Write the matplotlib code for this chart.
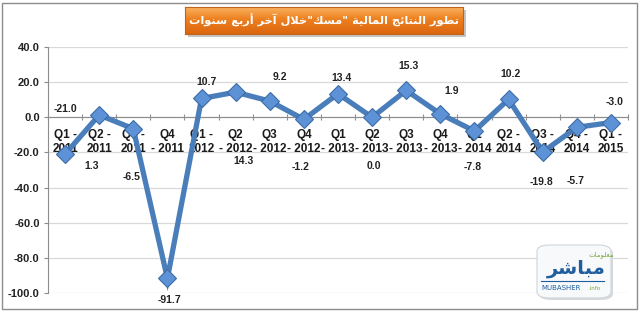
import matplotlib.pyplot as plt
import numpy as np
from matplotlib.patches import FancyBboxPatch, Rectangle

# quarterly results (data)
quarters = ["Q1 -\n2011", "Q2 -\n2011", "Q3 -\n2011", "Q4\n- 2011", "Q1 -\n2012",
            "Q2\n- 2012", "Q3\n- 2012", "Q4\n- 2012", "Q1\n- 2013", "Q2\n- 2013",
            "Q3\n- 2013", "Q4\n- 2013", "Q1\n- 2014", "Q2 -\n2014", "Q3 -\n2014",
            "Q4 -\n2014", "Q1 -\n2015"]
values = [-21.0, 1.3, -6.5, -91.7, 10.7, 14.3, 9.2, -1.2, 13.4, 0.0,
          15.3, 1.9, -7.8, 10.2, -19.8, -5.7, -3.0]
yticks = [40, 20, 0, -20, -40, -60, -80, -100]

# where the data labels sit relative to their point (pixels, y up)
label_dx = [0, -8, -2, 2, 5, 8, 10, -3, 3, 2, 2, 11, -2, 2, -1, -1, 4]
label_dy = [45, -51, -48, -22, 16, -69, 24, -48, 16, -49, 24, 23, -36, 25, -30, -54, 21]

title = 'تطور النتائج المالية "مسك"خلال آخر أربع سنوات'

# minimal arabic shaping (no reshaper lib available)
FORMS = {
    'ا': (0xFE8D, 0xFE8E, None, None), 'آ': (0xFE81, 0xFE82, None, None),
    'أ': (0xFE83, 0xFE84, None, None), 'ب': (0xFE8F, 0xFE90, 0xFE91, 0xFE92),
    'ة': (0xFE93, 0xFE94, None, None), 'ت': (0xFE95, 0xFE96, 0xFE97, 0xFE98),
    'ئ': (0xFE89, 0xFE8A, 0xFE8B, 0xFE8C), 'ج': (0xFE9D, 0xFE9E, 0xFE9F, 0xFEA0),
    'خ': (0xFEA5, 0xFEA6, 0xFEA7, 0xFEA8), 'ر': (0xFEAD, 0xFEAE, None, None),
    'س': (0xFEB1, 0xFEB2, 0xFEB3, 0xFEB4), 'ش': (0xFEB5, 0xFEB6, 0xFEB7, 0xFEB8),
    'ط': (0xFEC1, 0xFEC2, 0xFEC3, 0xFEC4), 'ع': (0xFEC9, 0xFECA, 0xFECB, 0xFECC),
    'ك': (0xFED9, 0xFEDA, 0xFEDB, 0xFEDC), 'ل': (0xFEDD, 0xFEDE, 0xFEDF, 0xFEE0),
    'م': (0xFEE1, 0xFEE2, 0xFEE3, 0xFEE4), 'ن': (0xFEE5, 0xFEE6, 0xFEE7, 0xFEE8),
    'و': (0xFEED, 0xFEEE, None, None), 'ي': (0xFEF1, 0xFEF2, 0xFEF3, 0xFEF4),
}
LAM_ALEF = {'ا': (0xFEFB, 0xFEFC), 'آ': (0xFEF5, 0xFEF6), 'أ': (0xFEF7, 0xFEF8)}


def shape(text):
    tokens = []
    i = 0
    while i < len(text):
        if text[i] == 'ل' and i + 1 < len(text) and text[i + 1] in LAM_ALEF:
            tokens.append(('LA', text[i + 1]))
            i += 2
        else:
            tokens.append(('C', text[i]))
            i += 1
    out = []
    for k, (kind, c) in enumerate(tokens):
        prev = tokens[k - 1] if k > 0 else None
        nxt = tokens[k + 1] if k + 1 < len(tokens) else None
        joins_prev = (prev is not None and prev[0] == 'C' and prev[1] in FORMS
                      and FORMS[prev[1]][2] is not None)
        if kind == 'LA':
            iso, fin = LAM_ALEF[c]
            out.append(chr(fin if joins_prev else iso))
            continue
        if c not in FORMS:
            out.append(c)
            continue
        iso, fin, ini, med = FORMS[c]
        joins_next = ini is not None and nxt is not None and (nxt[0] == 'LA' or nxt[1] in FORMS)
        if joins_prev and joins_next:
            g = med
        elif joins_prev:
            g = fin
        elif joins_next:
            g = ini
        else:
            g = iso
        out.append(chr(g))
    return ''.join(reversed(out))


W, H = 640, 311
fig = plt.figure(figsize=(W / 100, H / 100), dpi=100)
fig.patch.set_facecolor('white')

# outer frame
fig.add_artist(Rectangle((1.5 / W, 2.5 / H), 635 / W, 306 / H, transform=fig.transFigure,
                         fill=False, edgecolor='#8c8c8c', linewidth=1.0, zorder=-2))

ax = fig.add_axes([48 / W, 1 - 293 / H, 580 / W, 246 / H])
x = np.arange(len(values))

ax.plot(x, values, color='#4a7ebb', linewidth=3.8, marker='D', markersize=9,
        markerfacecolor='#5d93d6', markeredgecolor='#3d6ca6', markeredgewidth=0.8,
        solid_joinstyle='miter', zorder=3)

ax.set_xlim(-0.5, len(values) - 0.5)
ax.set_ylim(-100, 40)
ax.set_yticks(yticks)
ax.set_yticklabels([f"{t:.1f}" for t in yticks], fontsize=8, fontweight='bold',
                   family='Liberation Sans', color='#222222')
ax.yaxis.grid(True, color='#d9d9d9', linewidth=0.9)
ax.set_axisbelow(True)

for s in ['top', 'right']:
    ax.spines[s].set_visible(False)
ax.spines['left'].set_color('#8c8c8c')
ax.spines['bottom'].set_position(('data', 0))
ax.spines['bottom'].set_color('#8c8c8c')
ax.set_xticks(np.arange(-0.5, len(values), 1))
ax.set_xticklabels([])
ax.tick_params(axis='x', direction='inout', length=5, color='#8c8c8c')
ax.tick_params(axis='y', direction='out', length=3, color='#8c8c8c', pad=3)

for i, q in enumerate(quarters):
    ax.text(i, -13.9, q, ha='center', va='center', fontsize=8.5, fontweight='bold',
            family='Liberation Sans', color='#1a1a1a', linespacing=1.2, zorder=2)

for i, v in enumerate(values):
    ax.annotate(f"{v:.1f}", (i, v), xytext=(label_dx[i], label_dy[i]),
                textcoords='offset pixels', ha='center', va='center', fontsize=7.5,
                fontweight='bold', family='Liberation Sans', color='#222222', zorder=4)

# title box with orange gradient
fig.add_artist(Rectangle((188 / W, 1 - 37 / H), 278 / W, 27 / H, transform=fig.transFigure,
                         facecolor='#c4c4c4', edgecolor='none', zorder=-1))
tax = fig.add_axes([185 / W, 1 - 34 / H, 278 / W, 27 / H])
grad = np.linspace(0, 1, 64)
tcolors = np.array([[0.98, 0.70, 0.38], [0.93, 0.50, 0.12], [0.86, 0.40, 0.06]])
img = np.empty((64, 1, 3))
for c in range(3):
    img[:, 0, c] = np.interp(grad, [0, 0.45, 1], tcolors[:, c])
tax.imshow(img, aspect='auto', extent=(0, 1, 0, 1))
tax.set_xlim(0, 1)
tax.set_ylim(0, 1)
tax.set_xticks([])
tax.set_yticks([])
for s in tax.spines.values():
    s.set_color('#c0641c')
    s.set_linewidth(0.8)
tax.text(0.5, 0.5, shape(title), ha='center', va='center', color='white',
         fontsize=8.2, fontweight='bold', family='DejaVu Sans')

# mubasher logo
fig.add_artist(FancyBboxPatch((539 / W, 1 - 300 / H), 74 / W, 53 / H,
                              boxstyle='round,pad=0,rounding_size=0.02',
                              transform=fig.transFigure, facecolor='#d9d9d9',
                              edgecolor='none', zorder=2))
fig.add_artist(FancyBboxPatch((537 / W, 1 - 298 / H), 74 / W, 53 / H,
                              boxstyle='round,pad=0,rounding_size=0.02',
                              transform=fig.transFigure, facecolor='#f7f9fb',
                              edgecolor='#cfd6dd', linewidth=0.8, zorder=2))
fig.text(601 / W, 1 - 255 / H, shape('معلومات'), ha='center', va='center',
         fontsize=5, color='#7aa83a', family='DejaVu Sans', zorder=3)
fig.text(576 / W, 1 - 269 / H, shape('مباشر'), ha='center', va='center',
         fontsize=14, fontweight='bold', color='#1f5f9f', family='DejaVu Sans', zorder=3)
fig.add_artist(plt.Line2D([541 / W, 604 / W], [1 - 281 / H, 1 - 281 / H],
                          transform=fig.transFigure, color='#1f5f9f', linewidth=0.8,
                          zorder=3))
fig.text(561 / W, 1 - 288 / H, 'MUBASHER', ha='center', va='center',
         fontsize=5, color='#1f5f9f', family='DejaVu Sans', zorder=3)
fig.text(594 / W, 1 - 288 / H, '.info', ha='center', va='center',
         fontsize=4, color='#7aa83a', family='DejaVu Sans', zorder=3)

fig.savefig('out.png', dpi=100)
